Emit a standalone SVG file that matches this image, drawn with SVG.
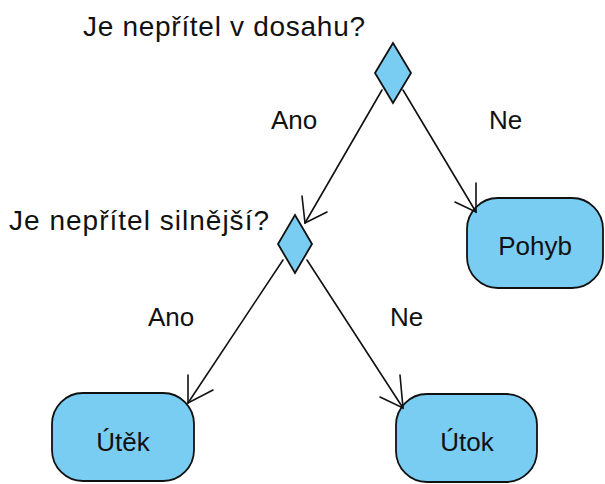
<svg xmlns="http://www.w3.org/2000/svg" width="605" height="484" viewBox="0 0 605 484">
  <style>
    text { font-family: "Liberation Sans", Arial, sans-serif; fill: #111111; }
    .q { font-size: 28px; }
    .lbl { font-size: 26px; }
    .node { font-size: 26px; text-anchor: middle; }
    .shape { fill: #79cdf2; stroke: #111; stroke-width: 1.8; }
    .edge { fill: none; stroke: #111; stroke-width: 1.6; stroke-linecap: round; stroke-linejoin: miter; }
  </style>
  <rect width="605" height="484" fill="#ffffff"/>

  <!-- decision: is the enemy in range -->
  <g id="d1">
    <polygon class="shape" points="393,43 411,73 393,103 375,73"/>
    <text class="q" x="83" y="36" textLength="282" lengthAdjust="spacing">Je nepřítel v dosahu?</text>
  </g>

  <!-- decision: is the enemy stronger -->
  <g id="d2">
    <polygon class="shape" points="295,215 312,244 295,273 278,244"/>
    <text class="q" x="9" y="230" textLength="260" lengthAdjust="spacing">Je nepřítel silnější?</text>
  </g>

  <g id="pohyb">
    <rect class="shape" x="467" y="198" width="136" height="90" rx="31" ry="31"/>
    <text class="node" x="535" y="255">Pohyb</text>
  </g>

  <g id="utek">
    <rect class="shape" x="52" y="393" width="142" height="88" rx="31" ry="31"/>
    <text class="node" x="123" y="451">Útěk</text>
  </g>

  <g id="utok">
    <rect class="shape" x="396" y="394" width="141" height="88" rx="31" ry="31"/>
    <text class="node" x="467" y="451">Útok</text>
  </g>

  <!-- connectors with open arrowheads -->
  <g id="edges">
    <line class="edge" x1="382" y1="90" x2="305" y2="223"/>
    <polyline class="edge" points="302,196 305,223 327,212"/>
    <text class="lbl" x="271" y="129">Ano</text>

    <line class="edge" x1="403" y1="90" x2="476" y2="212"/>
    <polyline class="edge" points="476,183 476,212 455,202"/>
    <text class="lbl" x="489" y="129">Ne</text>

    <line class="edge" x1="283" y1="260" x2="188" y2="403"/>
    <polyline class="edge" points="188,375 188,403 213,390"/>
    <text class="lbl" x="148" y="326">Ano</text>

    <line class="edge" x1="307" y1="260" x2="403" y2="408"/>
    <polyline class="edge" points="400,375 403,408 380,397"/>
    <text class="lbl" x="390" y="326">Ne</text>
  </g>
</svg>
